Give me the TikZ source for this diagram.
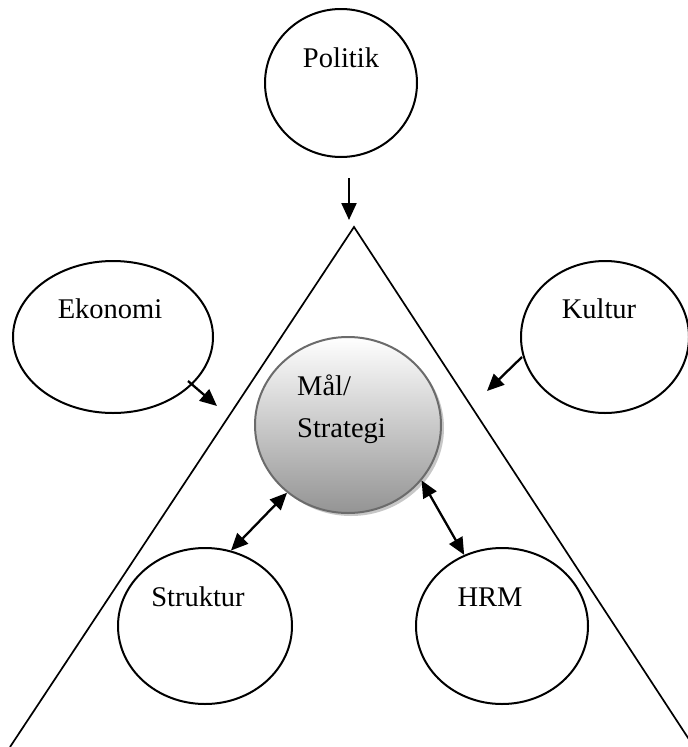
\documentclass[tikz,border=0pt]{standalone}
\usepackage{fontspec}
\setmainfont{Liberation Serif}
\usetikzlibrary{shapes.geometric,arrows.meta,shadows}

\begin{document}
\begin{tikzpicture}[x=1pt,y=-1pt,
  bubble/.style={draw,line width=2pt,ellipse,inner sep=0pt},
  lbl/.style={font=\fontsize{28.5}{42}\selectfont,anchor=base,inner sep=0pt},
  arr/.style={line width=2.3pt,-{Triangle[length=17pt,width=15pt]}},
  darr/.style={line width=2.3pt,{Triangle[length=17pt,width=15pt]}-{Triangle[length=17pt,width=15pt]}},
]
\useasboundingbox (0,0) rectangle (688,747);
\clip (0,0) rectangle (688,747);

% the pyramid (open at the bottom)
\draw[line width=1.7pt] (10,747) -- (354,227) -- (694,747);

% outer influences
\node[bubble,minimum width=152pt,minimum height=148pt] (politik) at (341,83) {};
\node[bubble,minimum width=200pt,minimum height=152pt] (ekonomi) at (113,337) {};
\node[bubble,minimum width=168pt,minimum height=152pt] (kultur) at (605,337) {};

% inner elements
\node[bubble,minimum width=174pt,minimum height=156pt] (struktur) at (205,626) {};
\node[bubble,minimum width=172pt,minimum height=156pt] (hrm) at (502,626) {};

% goals and strategy in the middle
\node[ellipse,draw=black!58,line width=2pt,minimum width=186pt,minimum height=176pt,
      top color=white,bottom color=black!42,
      drop shadow={shadow xshift=3pt,shadow yshift=-3pt,fill=black!22,opacity=1}]
      (mal) at (348,425) {};

% labels
\node[lbl] (tpolitik) at (341,67) {Politik};
\node[lbl] (tekonomi) at (110,318) {Ekonomi};
\node[lbl] (tkultur) at (599,318) {Kultur};
\node[lbl] (tstruktur) at (198,606) {Struktur};
\node[lbl] (thrm) at (490,606) {HRM};
\node[lbl,anchor=base west] (tmal) at (297,395) {Mål/};
\node[lbl,anchor=base west] (tstrategi) at (297,437) {Strategi};

% influence arrows
\coordinate (p1) at (349,178);
\coordinate (p2) at (349,220);
\coordinate (e1) at (188,381);
\coordinate (e2) at (217,406);
\coordinate (k1) at (522,357);
\coordinate (k2) at (487,391);
\draw[arr] (p1) -- (p2);
\draw[arr] (e1) -- (e2);
\draw[arr] (k1) -- (k2);

% two-way links
\draw[darr] (mal.228) -- (struktur.71);
\draw[darr] (mal.323) -- (hrm.118);
\end{tikzpicture}
\end{document}
